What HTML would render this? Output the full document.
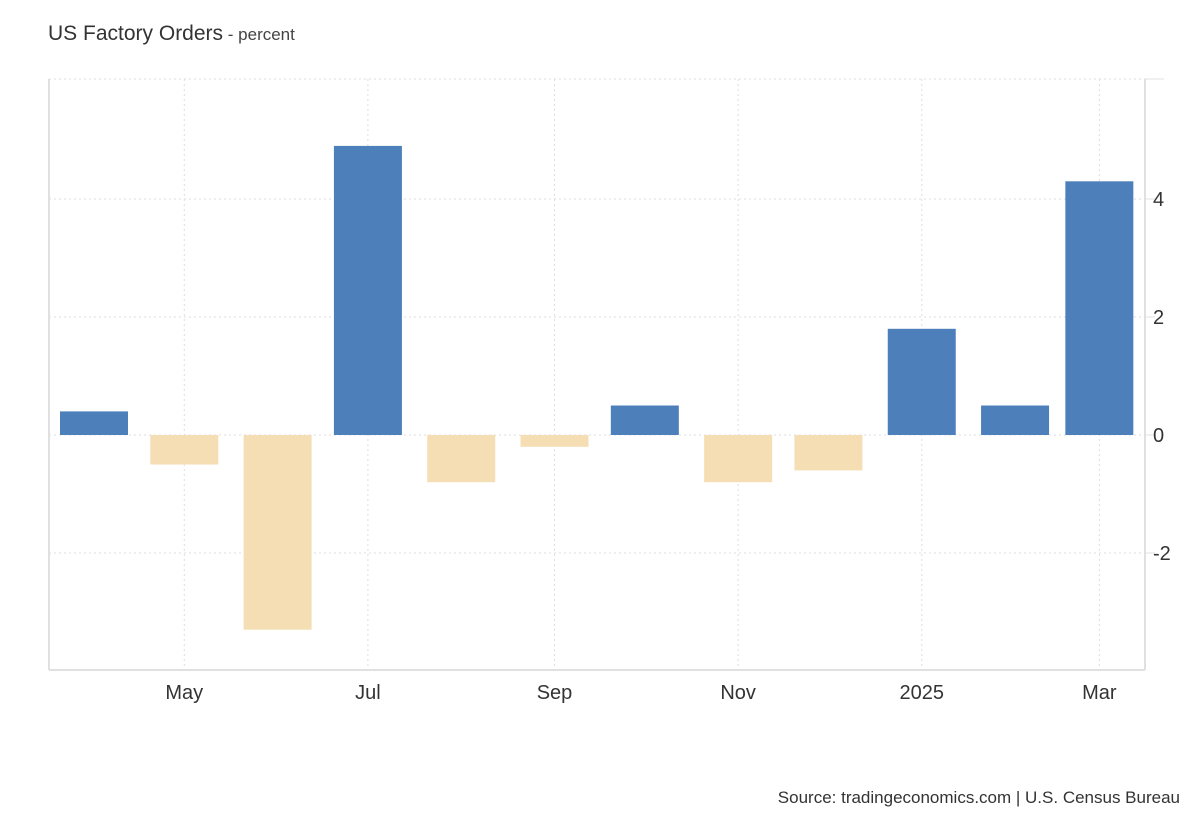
<!DOCTYPE html>
<html><head><meta charset="utf-8"><style>
body{margin:0;background:#fff;font-family:"Liberation Sans",Arial,sans-serif}
svg{display:block}
</style></head><body>
<svg id="c" width="1200" height="820">
<text x="48" y="40" font-size="21" fill="#333">US Factory Orders<tspan font-size="17" fill="#444"> - percent</tspan></text>
<text x="1180" y="803" font-size="17" fill="#333" text-anchor="end">Source: tradingeconomics.com | U.S. Census Bureau</text>
<g id="grid"></g><g id="bars"></g><g id="axes"></g>
</svg>
<script>
const months=["2024-04-01","2024-05-01","2024-06-01","2024-07-01","2024-08-01","2024-09-01","2024-10-01","2024-11-01","2024-12-01","2025-01-01","2025-02-01","2025-03-01"];
const values=[0.4,-0.5,-3.3,4.9,-0.8,-0.2,0.5,-0.8,-0.6,1.8,0.5,4.3];
const xTickDates=["2024-05-01","2024-07-01","2024-09-01","2024-11-01","2025-01-01","2025-03-01"];
const xTickLabels=["May","Jul","Sep","Nov","2025","Mar"];
const yTicks=[-2,0,2,4];
const NS="http://www.w3.org/2000/svg";
const L=49,R=1145,T=79,B=670;
const t0=Date.parse("2024-04-01");
function x(d){return 94+(Date.parse(d)-t0)/86400000*3.01;}
function y(v){return 435-v*59;}
function mk(p,tag,a){const e=document.createElementNS(NS,tag);for(const k in a)e.setAttribute(k,a[k]);p.appendChild(e);return e;}
const g=document.getElementById('grid'),b=document.getElementById('bars'),ax=document.getElementById('axes');
let e=mk(g,'line',{x1:L,x2:R,y1:T,y2:T,stroke:'#ddd','stroke-dasharray':'2,3'});


yTicks.forEach(v=>{
 const l=mk(g,'line',{x1:L,x2:R,y1:y(v),y2:y(v),stroke:'#ddd','stroke-dasharray':'2,3'});
 
 
 const tk=mk(ax,'line',{x1:R,x2:R+10,y1:y(v),y2:y(v),stroke:'#e0e0e0'});
 
 
 const t=mk(ax,'text',{x:1153,y:y(v)+7,'font-size':20,fill:'#333'});
 t.textContent=v;
 
 
});
xTickDates.forEach((d,i)=>{
 const l=mk(g,'line',{x1:x(d),x2:x(d),y1:T,y2:B,stroke:'#ddd','stroke-dasharray':'2,3'});
 
 
 const t=mk(ax,'text',{x:x(d),y:699,'font-size':20,fill:'#333','text-anchor':'middle'});
 t.textContent=xTickLabels[i];
 
 
});
months.forEach((m,i)=>{
 const v=values[i],cx=x(m);
 const r=mk(b,'rect',{x:cx-34,width:68,y:Math.min(y(v),y(0)),height:Math.abs(y(v)-y(0)),fill:v>=0?'#4d80bb':'#f5deb3'});
 
 
});
e=mk(ax,'line',{x1:L,x2:L,y1:T,y2:B,stroke:'#e0e0e0','stroke-width':2});


e=mk(ax,'line',{x1:L,x2:R,y1:B,y2:B,stroke:'#e0e0e0','stroke-width':2});


e=mk(ax,'line',{x1:R,x2:R,y1:T,y2:B,stroke:'#e0e0e0','stroke-width':2});


e=mk(ax,'line',{x1:R,x2:R+19,y1:T,y2:T,stroke:'#e0e0e0'});


</script>
</body></html>
